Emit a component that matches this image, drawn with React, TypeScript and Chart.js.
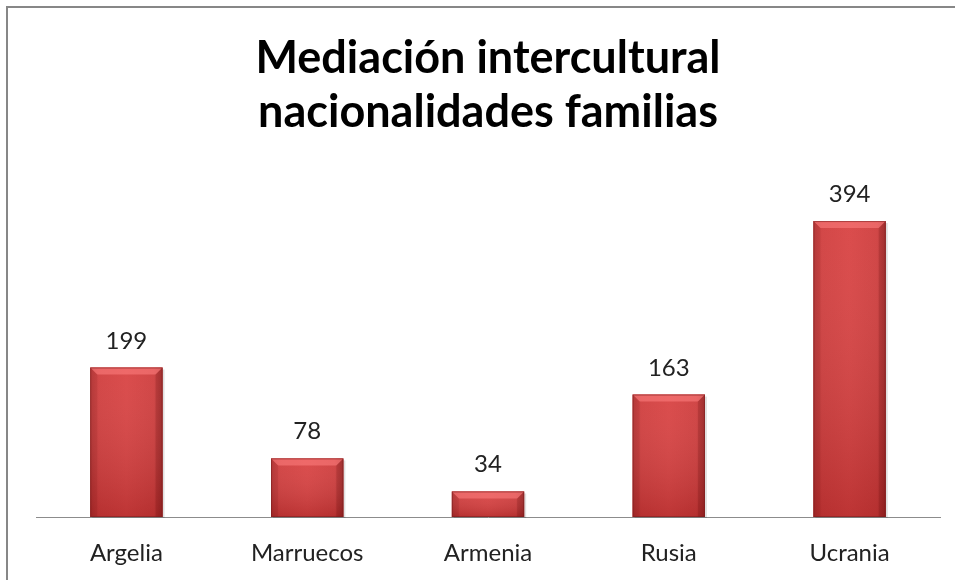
import React, { useEffect, useRef } from "react";
import { Chart, registerables } from "chart.js";

Chart.register(...registerables);

const titleLines = ["Mediación intercultural", "nacionalidades familias"];
const categories = ["Argelia", "Marruecos", "Armenia", "Rusia", "Ucrania"];
const values = [199, 78, 34, 163, 394];
const yMax = 450;

const bevelPlugin = {
  id: "bevel",
  afterDatasetsDraw(chart: any) {
    const ctx = chart.ctx;
    const meta = chart.getDatasetMeta(0);
    meta.data.forEach((bar: any) => {
      const w = bar.width;
      const l = bar.x - w / 2;
      const r = bar.x + w / 2;
      const t = bar.y;
      const b = bar.base;
      const bv = Math.min(7, (b - t) / 3);
      ctx.save();
      // soft shadow
      ctx.fillStyle = "rgba(0,0,0,0.12)";
      ctx.fillRect(l + 2, t + 2, w, b - t - 1);
      // horizontal shading
      const hg = ctx.createLinearGradient(l, 0, r, 0);
      hg.addColorStop(0, "#B83232");
      hg.addColorStop(0.12, "#D03C3C");
      hg.addColorStop(0.5, "#D84141");
      hg.addColorStop(0.88, "#CE3B3B");
      hg.addColorStop(1, "#A82C2C");
      ctx.fillStyle = hg;
      ctx.fillRect(l, t, w, b - t);
      // vertical shading
      const vg = ctx.createLinearGradient(0, t, 0, b);
      vg.addColorStop(0, "rgba(255,255,255,0.06)");
      vg.addColorStop(1, "rgba(80,0,0,0.2)");
      ctx.fillStyle = vg;
      ctx.fillRect(l, t, w, b - t);
      // top bevel
      ctx.beginPath();
      ctx.moveTo(l, t);
      ctx.lineTo(r, t);
      ctx.lineTo(r - bv, t + bv);
      ctx.lineTo(l + bv, t + bv);
      ctx.closePath();
      ctx.fillStyle = "rgba(255,130,130,0.55)";
      ctx.fill();
      // right bevel
      ctx.beginPath();
      ctx.moveTo(r, t);
      ctx.lineTo(r, b);
      ctx.lineTo(r - bv, b);
      ctx.lineTo(r - bv, t + bv);
      ctx.closePath();
      ctx.fillStyle = "rgba(90,0,0,0.15)";
      ctx.fill();
      // left bevel
      ctx.beginPath();
      ctx.moveTo(l, t);
      ctx.lineTo(l + bv, t + bv);
      ctx.lineTo(l + bv, b);
      ctx.lineTo(l, b);
      ctx.closePath();
      ctx.fillStyle = "rgba(90,0,0,0.08)";
      ctx.fill();
      // outline
      ctx.strokeStyle = "rgba(120,30,30,0.55)";
      ctx.lineWidth = 1;
      ctx.strokeRect(l + 0.5, t + 0.5, w - 1, b - t - 1);
      ctx.restore();
    });
  },
};

const labelPlugin = {
  id: "valueLabels",
  afterDatasetsDraw(chart: any) {
    const ctx = chart.ctx;
    const meta = chart.getDatasetMeta(0);
    const data = chart.data.datasets[0].data;
    ctx.save();
    ctx.font = "24px Lato";
    ctx.fillStyle = "#222222";
    ctx.textAlign = "center";
    ctx.textBaseline = "alphabetic";
    meta.data.forEach((bar: any, i: number) => {
      ctx.fillText(String(data[i]), bar.x, bar.y - 19);
    });
    ctx.restore();
  },
};

export default function App() {
  const ref = useRef<HTMLCanvasElement>(null);
  useEffect(() => {
    document.body.style.margin = "0";
    const chart = new Chart(ref.current!, {
      type: "bar",
      data: {
        labels: categories,
        datasets: [
          {
            data: values,
            backgroundColor: "#D23E3E",
            barPercentage: 0.4,
            categoryPercentage: 1,
          },
        ],
      },
      options: {
        animation: false,
        responsive: false,
        layout: { padding: { left: 36, right: 15, top: 31, bottom: 0 } },
        plugins: {
          legend: { display: false },
          tooltip: { enabled: false },
          title: {
            display: true,
            text: titleLines,
            color: "#000000",
            font: { family: "Lato", size: 45, weight: "bold", lineHeight: 1.2 },
            padding: { top: 0, bottom: 40 },
          },
        },
        scales: {
          x: {
            grid: { display: false, drawTicks: false },
            border: { display: true, color: "#8C8C8C", width: 1 },
            ticks: {
              color: "#222222",
              font: { family: "Lato", size: 24 },
              padding: 22,
            },
            afterFit: (scale: any) => {
              scale.height = 63;
            },
          },
          y: { display: false, min: 0, max: yMax },
        },
      },
      plugins: [bevelPlugin, labelPlugin],
    });
    return () => chart.destroy();
  }, []);
  return (
    <div style={{ position: "relative", width: 955, height: 580, overflow: "hidden", background: "#fff" }}>
      <div
        style={{
          position: "absolute",
          left: 6,
          top: 6,
          width: 1100,
          height: 1100,
          border: "2px solid #878787",
        }}
      />
      <canvas ref={ref} width={955} height={580} style={{ position: "absolute", left: 0, top: 0 }} />
    </div>
  );
}
